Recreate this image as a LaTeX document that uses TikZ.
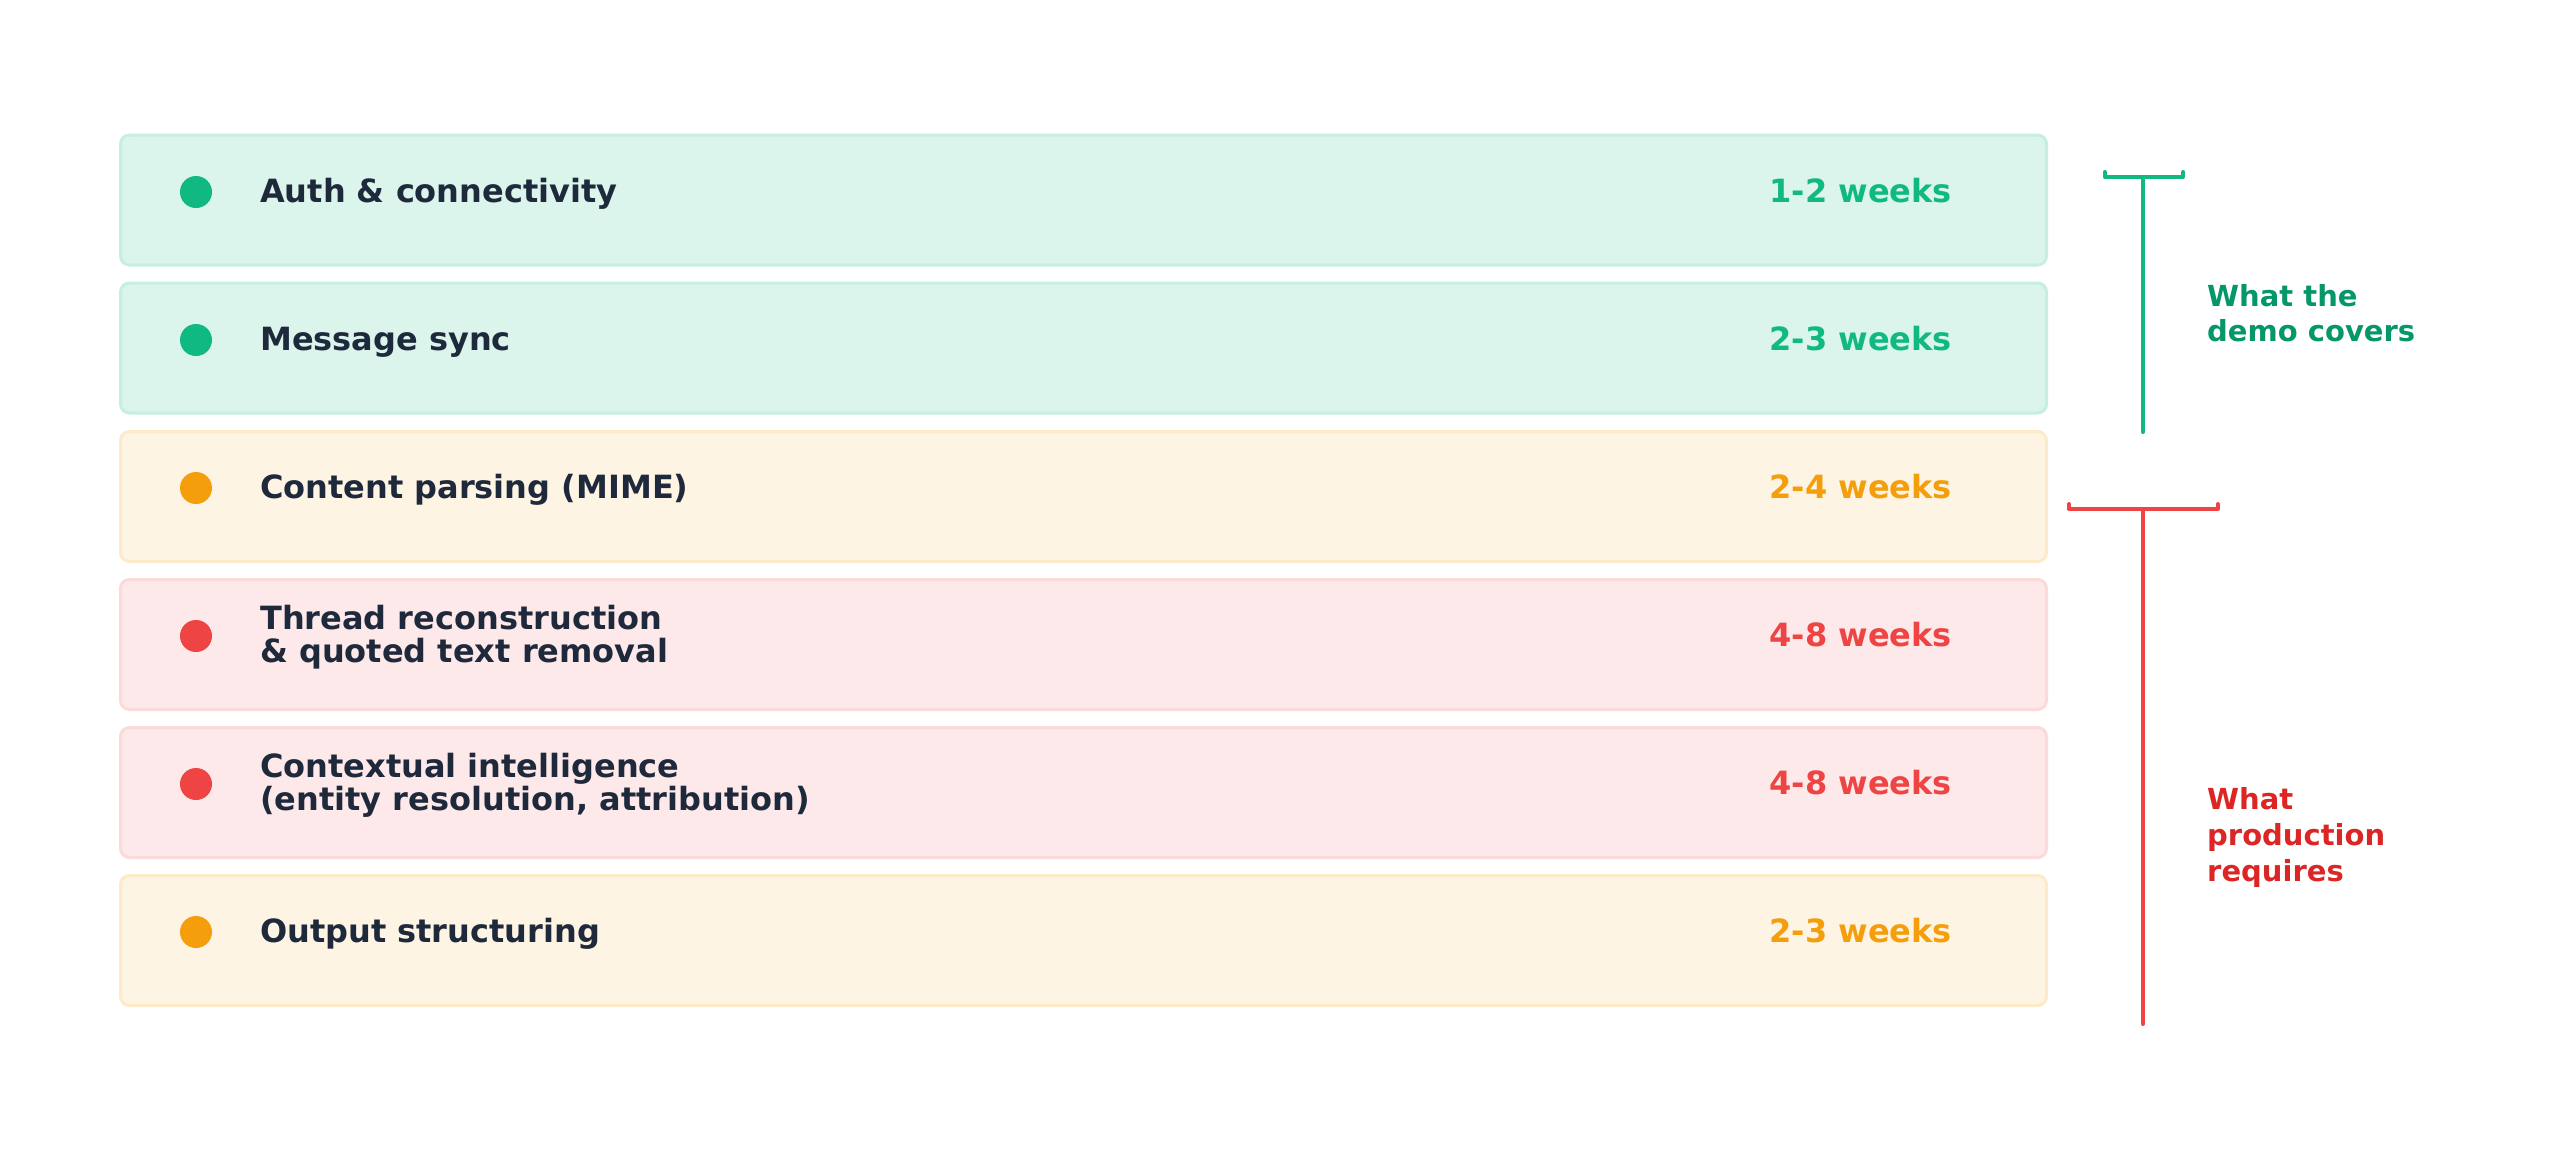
\documentclass[tikz,border=0pt]{standalone}
\usepackage{fontspec}
\setmainfont{DejaVu Sans}
\definecolor{cg}{HTML}{10B981}
\definecolor{co}{HTML}{F59E0B}
\definecolor{cr}{HTML}{EF4444}
\definecolor{cdk}{HTML}{1E293B}
\definecolor{cgd}{HTML}{059669}
\definecolor{crd}{HTML}{DC2626}
\tikzset{
  rowbox/.style n args={3}{draw=#1!#3!white, fill=#1!#2!white, line width=3pt, rounded corners=9pt,
    minimum width=1926pt, minimum height=130pt, anchor=north west, inner sep=0pt},
  dotc/.style={circle, fill=#1, draw=none, inner sep=0pt, minimum size=32pt},
  lbl/.style={anchor=base west, inner sep=0pt, text=cdk, font=\fontsize{32}{34}\selectfont\bfseries},
  wk/.style={anchor=base east, inner sep=0pt, text=#1, font=\fontsize{32}{34}\selectfont\bfseries},
  brk/.style={line width=4pt, line cap=round, line join=round},
  side/.style={anchor=base west, inner sep=0pt, font=\fontsize{29}{34}\selectfont\bfseries}
}
\begin{document}
\begin{tikzpicture}[x=1pt, y=-1pt]
\useasboundingbox (0,0) rectangle (2560,1151);
\fill[white] (0,0) rectangle (2560,1151);

% row 1
\node[rowbox={cg}{15}{24}] (b1) at (119,133.5) {};
\node[dotc=cg] (d1) at (196,192) {};
\node[lbl] (t1) at (260,202) {Auth \& connectivity};
\node[wk=cg] (w1) at (1952,202) {1-2 weeks};
% row 2
\node[rowbox={cg}{15}{24}] (b2) at (119,281.5) {};
\node[dotc=cg] (d2) at (196,340) {};
\node[lbl] (t2) at (260,350) {Message sync};
\node[wk=cg] (w2) at (1952,350) {2-3 weeks};
% row 3
\node[rowbox={co}{11}{22}] (b3) at (119,430) {};
\node[dotc=co] (d3) at (196,488) {};
\node[lbl] (t3) at (260,498) {Content parsing (MIME)};
\node[wk=co] (w3) at (1952,498) {2-4 weeks};
% row 4
\node[rowbox={cr}{12}{20}] (b4) at (119,578) {};
\node[dotc=cr] (d4) at (196,636) {};
\node[lbl] (t4a) at (260,629) {Thread reconstruction};
\node[lbl] (t4b) at (260,662) {\& quoted text removal};
\node[wk=cr] (w4) at (1952,646) {4-8 weeks};
% row 5
\node[rowbox={cr}{12}{20}] (b5) at (119,726) {};
\node[dotc=cr] (d5) at (196,784) {};
\node[lbl] (t5a) at (260,777) {Contextual intelligence};
\node[lbl] (t5b) at (260,810) {(entity resolution, attribution)};
\node[wk=cr] (w5) at (1952,794) {4-8 weeks};
% row 6
\node[rowbox={co}{11}{22}] (b6) at (119,874) {};
\node[dotc=co] (d6) at (196,932) {};
\node[lbl] (t6) at (260,942) {Output structuring};
\node[wk=co] (w6) at (1952,942) {2-3 weeks};

% green bracket
\coordinate (gT) at (2143,177);
\coordinate (gB) at (2143,432);
\draw[brk, cg] (2105,172) -- (2105,177) -- (2183,177) -- (2183,172);
\draw[brk, cg] (gT) -- (gB);
\node[side, text=cgd] (g1) at (2207,306) {What the};
\node[side, text=cgd] (g2) at (2207,341) {demo covers};

% red bracket
\coordinate (rT) at (2143,509);
\coordinate (rB) at (2143,1024);
\draw[brk, cr] (2069,504) -- (2069,509) -- (2218,509) -- (2218,504);
\draw[brk, cr] (rT) -- (rB);
\node[side, text=crd] (r1) at (2207,809) {What};
\node[side, text=crd] (r2) at (2207,845) {production};
\node[side, text=crd] (r3) at (2207,881) {requires};
\end{tikzpicture}
\end{document}
